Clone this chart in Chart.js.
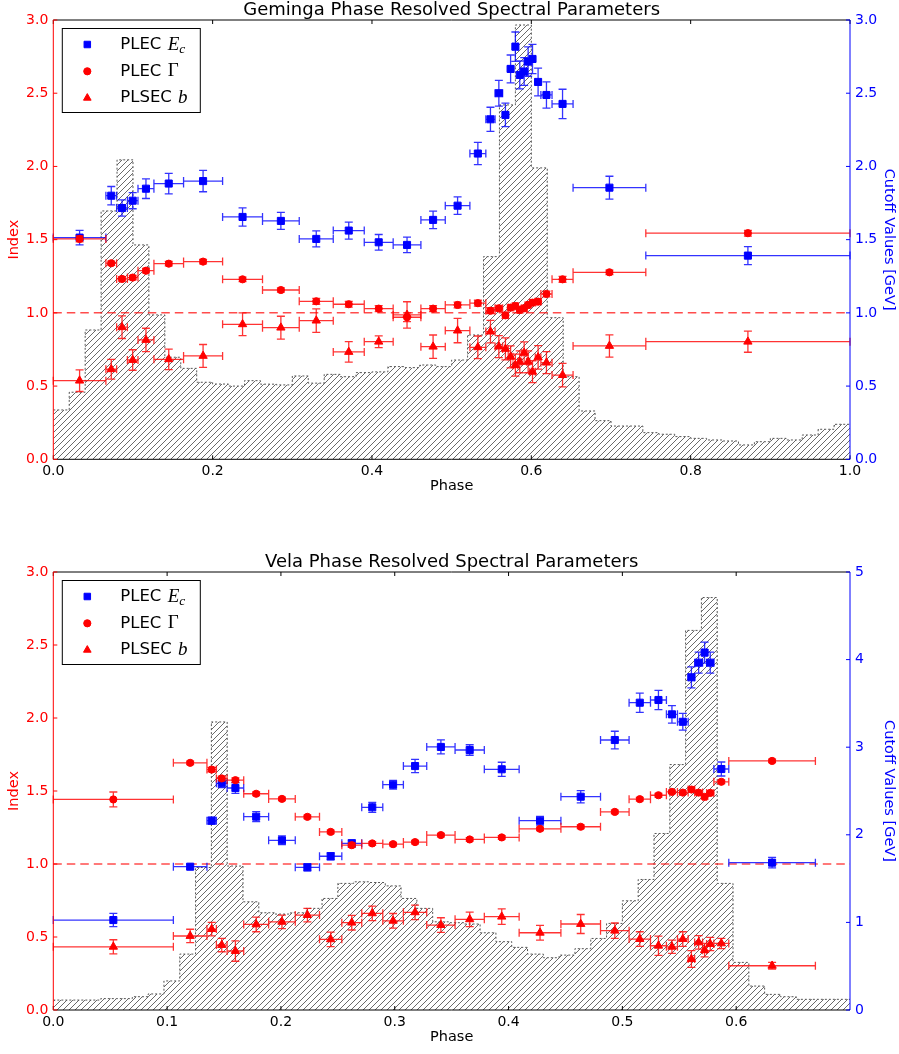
<!DOCTYPE html>
<html>
<head>
<meta charset="utf-8">
<script src="https://cdn.jsdelivr.net/npm/chart.js@4.4.0/dist/chart.umd.min.js"></script>
<style>
  body { margin: 0; background: #fff; }
  canvas { display: block; }
</style>
</head>
<body>
<canvas id="geminga" width="899" height="527"></canvas>
<canvas id="vela" width="899" height="527"></canvas>
<script>
// ---- Geminga ----
const gemTitle = "Geminga Phase Resolved Spectral Parameters";
// phase bin edges of the spectral fits
const gemEdges = [0.0, 0.066, 0.0795, 0.093, 0.1063, 0.1263, 0.1635, 0.2125, 0.2626, 0.3087,
  0.3514, 0.3903, 0.4266, 0.4614, 0.492, 0.5229, 0.5429, 0.5545, 0.564, 0.571,
  0.577, 0.583, 0.588, 0.594, 0.598, 0.605, 0.612, 0.626, 0.6524, 0.7437, 1.0];
const gemEc = [1.514, 1.80, 1.716, 1.766, 1.848, 1.883, 1.90, 1.655, 1.628, 1.505,
  1.562, 1.482, 1.464, 1.635, 1.732, 2.088, 2.322, 2.50, 2.352, 2.666,
  2.818, 2.625, 2.648, 2.716, 2.734, 2.577, 2.488, 2.427, 1.855, 1.391];
const gemEcErr = [0.05, 0.063, 0.055, 0.055, 0.067, 0.07, 0.073, 0.062, 0.058, 0.055,
  0.058, 0.053, 0.053, 0.06, 0.06, 0.076, 0.082, 0.088, 0.08, 0.095,
  0.1, 0.095, 0.095, 0.1, 0.1, 0.095, 0.09, 0.1, 0.078, 0.062];
const gemGamma = [1.505, 1.339, 1.232, 1.241, 1.288, 1.336, 1.35, 1.229, 1.156, 1.079,
  1.059, 1.029, 0.970, 1.029, 1.054, 1.066, 1.015, 1.031, 0.983, 1.036,
  1.047, 1.02, 1.031, 1.054, 1.07, 1.077, 1.129, 1.229, 1.277, 1.544];
const gemGammaErr = [0.02, 0.015, 0.015, 0.015, 0.015, 0.015, 0.015, 0.015, 0.015, 0.02,
  0.02, 0.02, 0.03, 0.02, 0.02, 0.02, 0.02, 0.02, 0.02, 0.02,
  0.02, 0.02, 0.02, 0.02, 0.02, 0.02, 0.02, 0.02, 0.015, 0.02];
const gemB = [0.537, 0.615, 0.902, 0.678, 0.815, 0.683, 0.706, 0.922, 0.899, 0.947,
  0.733, 0.803, 0.986, 0.769, 0.879, 0.765, 0.872, 0.77, 0.754, 0.70,
  0.643, 0.666, 0.727, 0.666, 0.598, 0.696, 0.66, 0.575, 0.774, 0.803];
const gemBErr = [0.074, 0.068, 0.077, 0.07, 0.08, 0.07, 0.078, 0.078, 0.078, 0.08,
  0.07, 0.04, 0.09, 0.08, 0.083, 0.077, 0.077, 0.075, 0.075, 0.075,
  0.075, 0.075, 0.075, 0.075, 0.075, 0.08, 0.075, 0.08, 0.076, 0.072];
// pulse profile (scaled to the index axis), bins of 0.02 in phase
const gemProfileBin = 0.02;
const gemProfile = [0.337, 0.458, 0.883, 1.696, 2.045, 1.464, 0.986, 0.697, 0.621, 0.526,
  0.514, 0.50, 0.537, 0.513, 0.508, 0.569, 0.52, 0.58, 0.564, 0.592,
  0.597, 0.633, 0.626, 0.644, 0.633, 0.678, 0.849, 1.384, 2.42, 2.966,
  1.99, 0.967, 0.564, 0.33, 0.264, 0.227, 0.227, 0.182, 0.171, 0.155,
  0.143, 0.132, 0.125, 0.098, 0.12, 0.143, 0.132, 0.166, 0.205, 0.239];

// ---- Vela ----
const velaTitle = "Vela Phase Resolved Spectral Parameters";
const velaEdges = [0.0, 0.1055, 0.135, 0.1433, 0.1527, 0.1673, 0.1892, 0.2126, 0.2339, 0.2535,
  0.271, 0.2895, 0.3076, 0.3281, 0.353, 0.3787, 0.4093, 0.446, 0.4808, 0.5059,
  0.5247, 0.5387, 0.5484, 0.5578, 0.5635, 0.5705, 0.574, 0.5804, 0.5935, 0.6696];
const velaEc = [1.027, 1.636, 2.161, 2.588, 2.534, 2.207, 1.937, 1.629, 1.755, 1.903,
  2.314, 2.572, 2.785, 3.003, 2.968, 2.748, 2.161, 2.435, 3.082, 3.508,
  3.539, 3.375, 3.29, 3.798, 3.965, 4.08, 3.965, 2.751, 1.682];
const velaEcErr = [0.076, 0.03, 0.04, 0.05, 0.06, 0.057, 0.05, 0.04, 0.04, 0.04,
  0.057, 0.05, 0.076, 0.08, 0.06, 0.08, 0.05, 0.07, 0.1, 0.11,
  0.11, 0.1, 0.095, 0.12, 0.12, 0.12, 0.12, 0.08, 0.06];
const velaGamma = [1.442, 1.693, 1.647, 1.586, 1.574, 1.481, 1.446, 1.323, 1.22, 1.129,
  1.141, 1.136, 1.15, 1.198, 1.168, 1.182, 1.241, 1.255, 1.357, 1.444,
  1.471, 1.494, 1.489, 1.51, 1.489, 1.46, 1.487, 1.563, 1.706];
const velaGammaErr = [0.051, 0.012, 0.015, 0.015, 0.015, 0.012, 0.012, 0.012, 0.012, 0.015,
  0.012, 0.012, 0.012, 0.012, 0.012, 0.012, 0.012, 0.012, 0.012, 0.012,
  0.012, 0.012, 0.012, 0.015, 0.015, 0.015, 0.015, 0.012, 0.012];
const velaB = [0.433, 0.507, 0.554, 0.445, 0.404, 0.586, 0.604, 0.65, 0.484, 0.598,
  0.662, 0.611, 0.669, 0.582, 0.621, 0.639, 0.529, 0.589, 0.543, 0.486,
  0.44, 0.433, 0.486, 0.349, 0.463, 0.41, 0.452, 0.456, 0.303];
const velaBErr = [0.048, 0.046, 0.046, 0.046, 0.07, 0.05, 0.046, 0.046, 0.05, 0.05,
  0.05, 0.05, 0.05, 0.05, 0.05, 0.053, 0.05, 0.065, 0.053, 0.05,
  0.066, 0.045, 0.05, 0.057, 0.046, 0.046, 0.046, 0.035, 0.023];
// pulse profile, bins of 1/72 in phase
const velaProfileBin = 1 / 72;
const velaProfile = [0.068, 0.068, 0.068, 0.078, 0.078, 0.091, 0.11, 0.199, 0.383, 0.976,
  1.973, 0.986, 0.741, 0.666, 0.657, 0.666, 0.696, 0.764, 0.867, 0.878,
  0.873, 0.85, 0.764, 0.696, 0.604, 0.598, 0.589, 0.529, 0.468, 0.429,
  0.383, 0.358, 0.376, 0.42, 0.49, 0.593, 0.748, 0.894, 1.209, 1.681,
  2.60, 2.825, 0.867, 0.326, 0.164, 0.107, 0.091, 0.073, 0.073, 0.073, 0.073];

const referenceIndex = 1.0;
const legendNames = ["PLEC", "PLEC", "PLSEC"];

const BLUE = "#0000ff", RED = "#ff0000";
const BLUE_ERR = "rgba(0,0,255,0.8)", RED_ERR = "rgba(255,0,0,0.8)";

Chart.defaults.font.family = "'DejaVu Sans', sans-serif";
Chart.defaults.color = "#000";

function hatchPattern() {
  const c = document.createElement("canvas");
  c.width = 6; c.height = 6;
  const g = c.getContext("2d");
  g.strokeStyle = "#444";
  g.lineWidth = 0.8;
  g.beginPath();
  g.moveTo(0, 6); g.lineTo(6, 0);
  g.moveTo(-1, 1); g.lineTo(1, -1);
  g.moveTo(5, 7); g.lineTo(7, 5);
  g.stroke();
  return g.createPattern(c, "repeat");
}

function profilePoints(values, width, xMax) {
  const pts = values.map((v, i) => ({ x: i * width, y: v }));
  pts.push({ x: xMax, y: values[values.length - 1] });
  return pts;
}
function binPoints(edges, vals) {
  return vals.map((v, i) => ({ x: (edges[i] + edges[i + 1]) / 2, y: v }));
}
function binRanges(edges, n) {
  const r = [];
  for (let i = 0; i < n; i++) r.push([edges[i], edges[i + 1]]);
  return r;
}

const errorBars = {
  id: "errorBars",
  beforeDatasetDraw(chart, args) {
    const ds = chart.data.datasets[args.index];
    if (!ds.errY) return;
    const xs = chart.scales.x, ys = chart.scales[ds.yAxisID];
    const ctx = chart.ctx, cap = 4;
    ctx.save();
    ctx.strokeStyle = ds.errColor;
    ctx.lineWidth = 1.3;
    ctx.beginPath();
    ds.data.forEach((p, i) => {
      const px = xs.getPixelForValue(p.x), py = ys.getPixelForValue(p.y);
      const x0 = xs.getPixelForValue(ds.errX[i][0]), x1 = xs.getPixelForValue(ds.errX[i][1]);
      const y0 = ys.getPixelForValue(p.y - ds.errY[i]), y1 = ys.getPixelForValue(p.y + ds.errY[i]);
      ctx.moveTo(x0, py); ctx.lineTo(x1, py);
      ctx.moveTo(x0, py - cap); ctx.lineTo(x0, py + cap);
      ctx.moveTo(x1, py - cap); ctx.lineTo(x1, py + cap);
      ctx.moveTo(px, y0); ctx.lineTo(px, y1);
      ctx.moveTo(px - cap, y0); ctx.lineTo(px + cap, y0);
      ctx.moveTo(px - cap, y1); ctx.lineTo(px + cap, y1);
    });
    ctx.stroke();
    ctx.restore();
  },
  afterDatasetDraw(chart, args) {
    // dashed reference line right above the pulse profile
    if (args.index !== 0) return;
    const { ctx, chartArea: a } = chart;
    const py = chart.scales.y.getPixelForValue(referenceIndex);
    ctx.save();
    ctx.strokeStyle = "rgba(255,0,0,0.7)";
    ctx.lineWidth = 1.5;
    ctx.setLineDash([8.5, 5]);
    ctx.beginPath();
    ctx.moveTo(a.left, py); ctx.lineTo(a.right, py);
    ctx.stroke();
    ctx.restore();
  }
};

const frame = {
  id: "frame",
  afterDraw(chart) {
    const { ctx, chartArea: a, scales } = chart;
    const tl = 4;
    ctx.save();
    ctx.lineWidth = 1;
    ctx.strokeStyle = "#000";
    ctx.beginPath();
    scales.x.ticks.forEach(t => {
      const px = scales.x.getPixelForValue(t.value);
      ctx.moveTo(px, a.bottom); ctx.lineTo(px, a.bottom - tl);
      ctx.moveTo(px, a.top); ctx.lineTo(px, a.top + tl);
    });
    ctx.moveTo(a.left, a.top); ctx.lineTo(a.right, a.top);
    ctx.moveTo(a.left, a.bottom); ctx.lineTo(a.right, a.bottom);
    ctx.stroke();

    ctx.strokeStyle = RED;
    ctx.beginPath();
    scales.y.ticks.forEach(t => {
      const py = scales.y.getPixelForValue(t.value);
      ctx.moveTo(a.left, py); ctx.lineTo(a.left + tl, py);
    });
    ctx.moveTo(a.left, a.top); ctx.lineTo(a.left, a.bottom);
    ctx.stroke();

    ctx.strokeStyle = BLUE;
    ctx.beginPath();
    scales.y2.ticks.forEach(t => {
      const py = scales.y2.getPixelForValue(t.value);
      ctx.moveTo(a.right, py); ctx.lineTo(a.right - tl, py);
    });
    ctx.moveTo(a.right, a.top); ctx.lineTo(a.right, a.bottom);
    ctx.stroke();

    // legend
    const bx = a.left + 8.5, by = a.top + 8, bw = 138, bh = 84;
    ctx.fillStyle = "#fff";
    ctx.fillRect(bx, by, bw, bh);
    ctx.strokeStyle = "#000";
    ctx.strokeRect(bx + 0.5, by + 0.5, bw, bh);
    const rows = [
      { style: "rect", r: 4.6, color: BLUE, dy: 16.5 },
      { style: "circle", r: 3.6, color: RED, dy: 43.3 },
      { style: "triangle", r: 4.4, color: RED, dy: 70 }
    ];
    rows.forEach((row, i) => {
      const y = by + row.dy;
      ctx.fillStyle = row.color; ctx.strokeStyle = row.color;
      Chart.helpers.drawPoint(ctx, { pointStyle: row.style, radius: row.r, rotation: 0, borderWidth: 1 }, bx + 25.5, y);
      ctx.fillStyle = "#000";
      ctx.textBaseline = "middle";
      ctx.textAlign = "left";
      ctx.font = "16.5px 'DejaVu Sans'";
      const name = legendNames[i] + " ";
      const tx = bx + 58.5;
      ctx.fillText(name, tx, y);
      let mx = tx + ctx.measureText(name).width + 1;
      if (i === 0) {
        ctx.font = "italic 19px 'Liberation Serif'";
        ctx.fillText("E", mx, y);
        mx += ctx.measureText("E").width;
        ctx.font = "italic 13.5px 'Liberation Serif'";
        ctx.fillText("c", mx, y + 5);
      } else if (i === 1) {
        ctx.font = "19px 'Liberation Serif'";
        ctx.fillText("\u0393", mx, y);
      } else {
        ctx.font = "italic 19px 'Liberation Serif'";
        ctx.fillText("b", mx, y);
      }
    });
    ctx.restore();
  }
};

function makeChart(id, cfg) {
  const hatch = hatchPattern();
  return new Chart(document.getElementById(id), {
    type: "scatter",
    data: {
      datasets: [
        {
          type: "line",
          label: "profile",
          data: profilePoints(cfg.profile, cfg.profileBin, cfg.xMax),
          yAxisID: "y",
          stepped: true,
          fill: "origin",
          backgroundColor: hatch,
          borderColor: "#555",
          borderWidth: 1,
          borderDash: [2, 2],
          pointRadius: 0,
          order: 10
        },
        {
          label: "PLEC Ec",
          data: binPoints(cfg.edges, cfg.ec),
          errX: binRanges(cfg.edges, cfg.ec.length),
          errY: cfg.ecErr,
          errColor: BLUE_ERR,
          yAxisID: "y2",
          pointStyle: "rect",
          pointRadius: 5.0,
          backgroundColor: BLUE,
          borderColor: BLUE,
          borderWidth: 1,
          order: 3
        },
        {
          label: "PLEC Gamma",
          data: binPoints(cfg.edges, cfg.gamma),
          errX: binRanges(cfg.edges, cfg.gamma.length),
          errY: cfg.gammaErr,
          errColor: RED_ERR,
          yAxisID: "y",
          pointStyle: "circle",
          pointRadius: 3.6,
          backgroundColor: RED,
          borderColor: RED,
          borderWidth: 1,
          order: 2
        },
        {
          label: "PLSEC b",
          data: binPoints(cfg.edges, cfg.b),
          errX: binRanges(cfg.edges, cfg.b.length),
          errY: cfg.bErr,
          errColor: RED_ERR,
          yAxisID: "y",
          pointStyle: "triangle",
          pointRadius: 4.8,
          backgroundColor: RED,
          borderColor: RED,
          borderWidth: 1,
          order: 1
        }
      ]
    },
    options: {
      responsive: false,
      animation: false,
      devicePixelRatio: 1,
      layout: { padding: { top: cfg.padTop, bottom: cfg.padBottom, left: 0, right: 0 } },
      plugins: {
        legend: { display: false },
        tooltip: { enabled: false },
        title: {
          display: true,
          text: cfg.title,
          fullSize: false,
          color: "#000",
          font: { size: 18, weight: "normal", lineHeight: 1.1 },
          padding: { top: 0, bottom: 0.2 }
        }
      },
      scales: {
        x: {
          type: "linear",
          min: 0,
          max: cfg.xMax,
          afterFit: s => { s.height = 36; },
          afterBuildTicks: s => { s.ticks = s.ticks.filter(t => t.value <= cfg.xLabelMax + 1e-9); },
          grid: { display: false, drawTicks: false },
          border: { display: false },
          ticks: {
            stepSize: cfg.xStep,
            autoSkip: false,
            maxRotation: 0,
            padding: 4,
            color: "#000",
            font: { size: 14 },
            callback: v => v.toFixed(1)
          },
          title: { display: true, text: "Phase", color: "#000", font: { size: 14.5 }, padding: { top: 0, bottom: 0 } }
        },
        y: {
          position: "left",
          min: 0,
          max: 3,
          afterFit: s => { s.width = 53.3; },
          grid: { display: false, drawTicks: false },
          border: { display: false },
          ticks: { stepSize: 0.5, padding: 5, color: RED, font: { size: 14 }, callback: v => v.toFixed(1) },
          title: { display: true, text: "Index", color: RED, font: { size: 14.5 }, padding: { top: 6, bottom: 0 } }
        },
        y2: {
          position: "right",
          min: 0,
          max: cfg.ecMax,
          afterFit: s => { s.width = 49; },
          grid: { display: false, drawTicks: false },
          border: { display: false },
          ticks: { stepSize: cfg.ecStep, padding: 5, color: BLUE, font: { size: 14 }, callback: cfg.ecFormat },
          title: { display: true, text: "Cutoff Values [GeV]", color: BLUE, font: { size: 14.5 }, padding: { top: 1.3, bottom: 0 } }
        }
      }
    },
    plugins: [errorBars, frame]
  });
}

makeChart("geminga", {
  title: gemTitle, edges: gemEdges,
  ec: gemEc, ecErr: gemEcErr, gamma: gemGamma, gammaErr: gemGammaErr, b: gemB, bErr: gemBErr,
  profile: gemProfile, profileBin: gemProfileBin,
  xMax: 1.0, xLabelMax: 1.0, xStep: 0.2,
  ecMax: 3, ecStep: 0.5, ecFormat: v => v.toFixed(1),
  padTop: 0, padBottom: 31.7
});

makeChart("vela", {
  title: velaTitle, edges: velaEdges,
  ec: velaEc, ecErr: velaEcErr, gamma: velaGamma, gammaErr: velaGammaErr, b: velaB, bErr: velaBErr,
  profile: velaProfile, profileBin: velaProfileBin,
  xMax: 0.7, xLabelMax: 0.6, xStep: 0.1,
  ecMax: 5, ecStep: 1, ecFormat: v => v.toFixed(0),
  padTop: 25, padBottom: 8
});
</script>
</body>
</html>
